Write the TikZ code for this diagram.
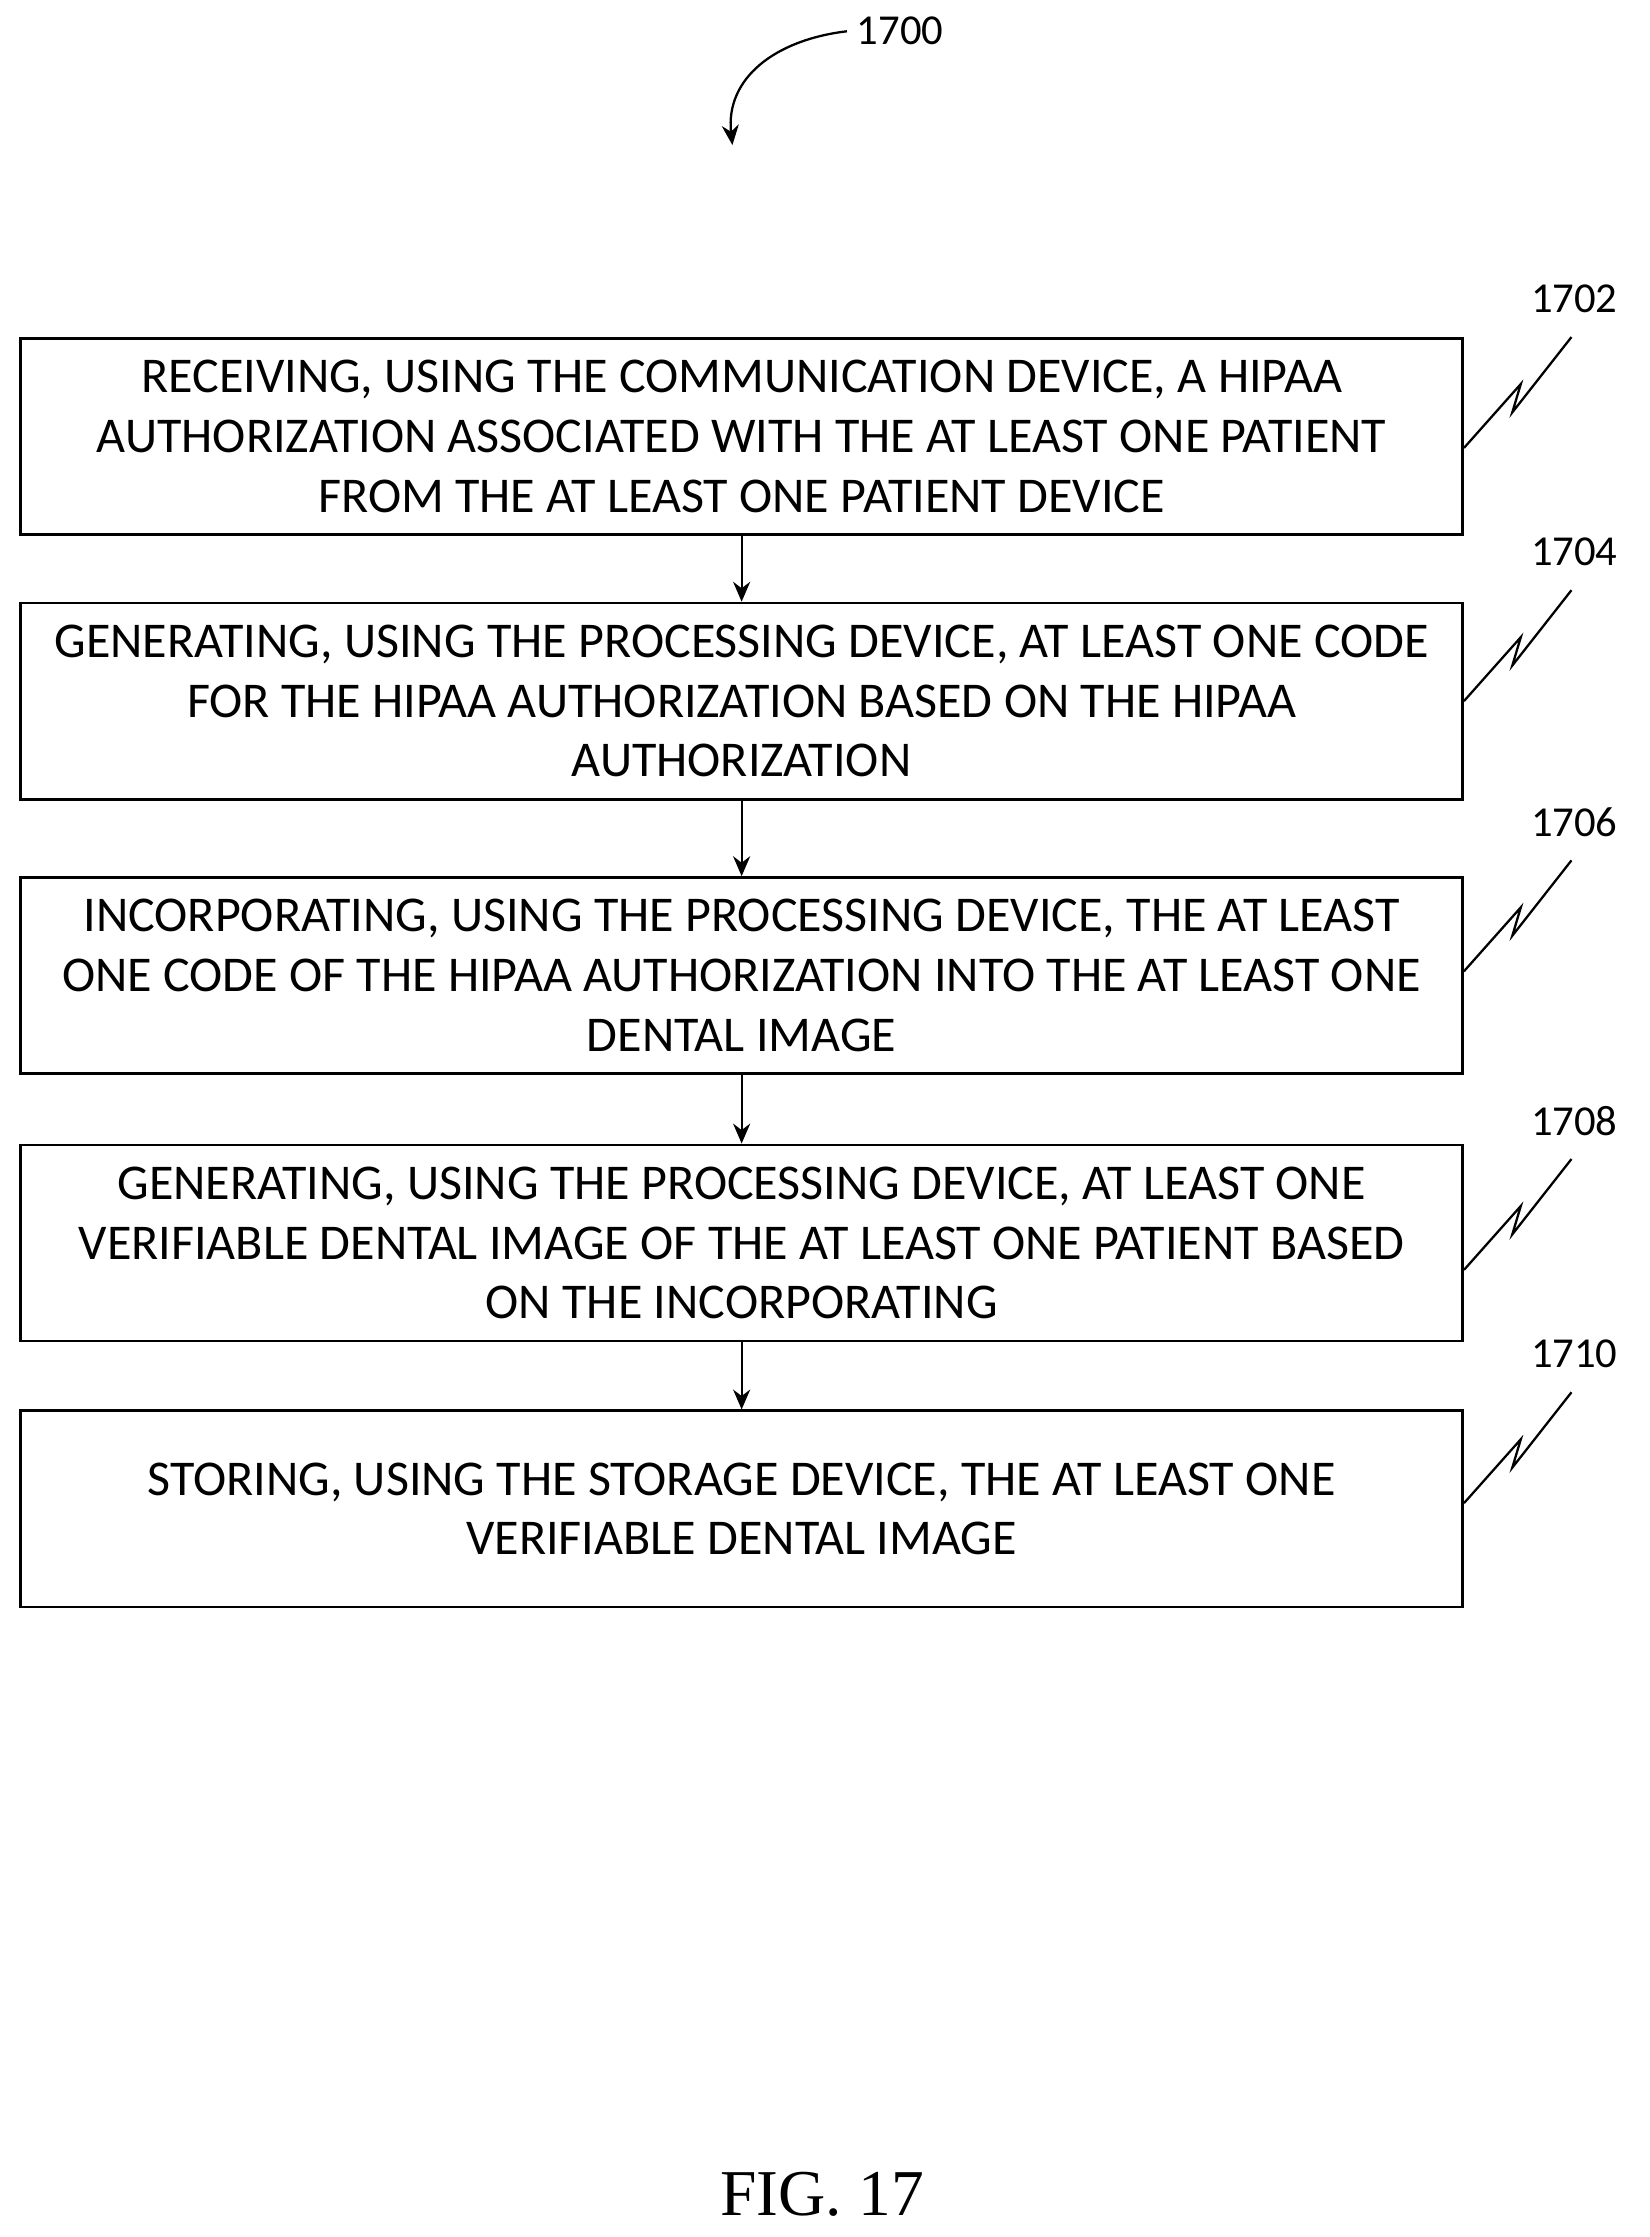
\documentclass[tikz,border=0pt]{standalone}
\usepackage{fontspec}
\setmainfont{Carlito}
\newfontfamily\figfont{Liberation Serif}
\usetikzlibrary{arrows.meta}
\begin{document}
\begin{tikzpicture}[x=0.5pt,y=-0.5pt,
  box/.style={draw,line width=0.9pt,minimum width=507pt,minimum height=69pt,align=center,inner sep=0pt,font=\fontsize{17.6}{21}\selectfont},
  lab/.style={font=\fontsize{15}{16}\selectfont},
  arr/.style={-{Stealth[length=7pt,width=6pt]},line width=0.8pt}]
\useasboundingbox (0,0) rectangle (1160,1573);
\node[box] (b1) at (521.5,307) {RECEIVING, USING THE COMMUNICATION DEVICE, A HIPAA\\AUTHORIZATION ASSOCIATED WITH THE AT LEAST ONE PATIENT\\FROM THE AT LEAST ONE PATIENT DEVICE};
\node[box] (b2) at (521.5,493) {GENERATING, USING THE PROCESSING DEVICE, AT LEAST ONE CODE\\FOR THE HIPAA AUTHORIZATION BASED ON THE HIPAA\\AUTHORIZATION};
\node[box] (b3) at (521.5,686) {INCORPORATING, USING THE PROCESSING DEVICE, THE AT LEAST\\ONE CODE OF THE HIPAA AUTHORIZATION INTO THE AT LEAST ONE\\DENTAL IMAGE};
\node[box] (b4) at (521.5,874) {GENERATING, USING THE PROCESSING DEVICE, AT LEAST ONE\\VERIFIABLE DENTAL IMAGE OF THE AT LEAST ONE PATIENT BASED\\ON THE INCORPORATING};
\node[box] (b5) at (521.5,1061) {STORING, USING THE STORAGE DEVICE, THE AT LEAST ONE\\VERIFIABLE DENTAL IMAGE};
\foreach \a/\b in {b1/b2,b2/b3,b3/b4,b4/b5} \draw[arr] (\a) -- (\b);
\foreach \b/\t/\y in {b1/1702/210,b2/1704/388,b3/1706/578,b4/1708/788,b5/1710/952}{
  \node[lab] (l\t) at (1107,\y) {\t};
  \draw[line width=0.8pt] (\b.east |- 0,\y+105) -- ++(40,-45) -- ++(-6,20) -- (1105,\y+27);
}
\node[lab] (top) at (633,22) {1700};
\coordinate (tt) at (515,102);
\draw[arr] (top.west) .. controls (545,28) and (510,55) .. (tt);
\node[font=\figfont\fontsize{23}{24}\selectfont] (fig) at (578,1543) {FIG. 17};
\end{tikzpicture}
\end{document}
